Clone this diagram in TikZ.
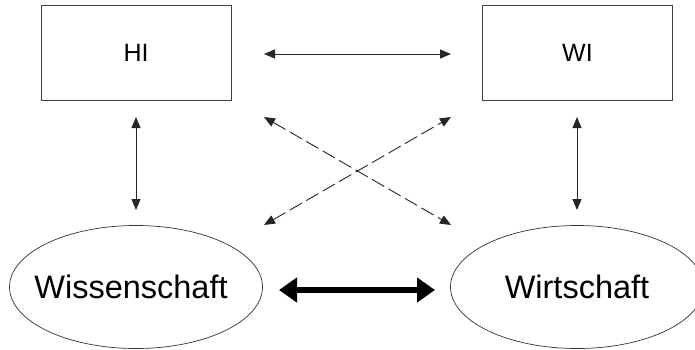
\documentclass[tikz,border=0pt]{standalone}
\usepackage{fontspec}
\setmainfont{Liberation Sans}
\usetikzlibrary{arrows.meta,shapes.geometric}
\begin{document}
\begin{tikzpicture}[x=1pt,y=-1pt,
  box/.style={draw=black!75,line width=0.8pt,minimum width=190pt,minimum height=95pt,inner sep=0pt,font=\fontsize{25pt}{30pt}\selectfont},
  oval/.style={draw=black!80,line width=0.7pt,ellipse,minimum width=253pt,minimum height=123pt,inner sep=0pt,font=\fontsize{32.5pt}{38pt}\selectfont},
  link/.style={draw=black!85,line width=0.9pt,{Triangle[length=11pt,width=9pt]}-{Triangle[length=11pt,width=9pt]}},
  dlink/.style={link,dash pattern=on 14pt off 5pt},
  strong/.style={draw=black,line width=6pt,{Triangle[length=18pt,width=24pt]}-{Triangle[length=18pt,width=24pt]}}
]
\useasboundingbox (0,0) rectangle (695,349);
\clip (0,0) rectangle (695,349);
\fill[white] (0,0) rectangle (695,349);
\node[box] (hi) at (136,52.5) {HI};
\node[box] (wi) at (577.5,52.5) {WI};
\node[oval] (wis) at (136,287) {\makebox[0pt]{Wissenschaft\hspace{10pt}}};
\node[oval] (wir) at (577,287) {\makebox[0pt]{Wirtschaft}};
\coordinate (h1) at (264,54);
\coordinate (h2) at (451,54);
\coordinate (v1a) at (136,117);
\coordinate (v1b) at (136,210);
\coordinate (v2a) at (577,117);
\coordinate (v2b) at (577,210);
\coordinate (d1a) at (264,117);
\coordinate (d1b) at (451,225);
\coordinate (d2a) at (264,225);
\coordinate (d2b) at (451,117);
\coordinate (t1) at (279,290);
\coordinate (t2) at (435,290);
\draw[link] (h1) -- (h2);
\draw[link] (v1a) -- (v1b);
\draw[link] (v2a) -- (v2b);
\draw[dlink] (d1a) -- (d1b);
\draw[dlink] (d2a) -- (d2b);
\draw[strong] (t1) -- (t2);
\end{tikzpicture}
\end{document}
